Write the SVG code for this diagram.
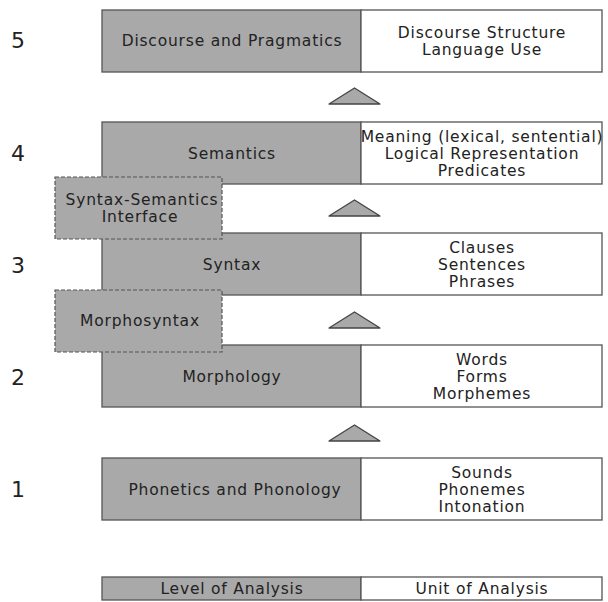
<svg xmlns="http://www.w3.org/2000/svg" width="608" height="602" viewBox="0 0 608 602">
<style>
.lv{fill:#a9a9a9;stroke:#555;stroke-width:1.3}
.un{fill:#fff;stroke:#555;stroke-width:1.3}
.ifc{fill:#a9a9a9;stroke:#555;stroke-width:1.2;stroke-dasharray:4 2}
.tri{fill:#a9a9a9;stroke:#444;stroke-width:1.3;stroke-linejoin:round}
text{font-family:"DejaVu Sans",Verdana,sans-serif;font-size:15.5px;letter-spacing:0.8px;fill:#222;text-anchor:middle}
.num{font-size:22px;letter-spacing:0;text-anchor:start;fill:#222}
</style>
<rect width="608" height="602" fill="#fff"/>
<g id="connectors">
<polygon class="tri" points="329,104 354.5,88 380,104"/>
<polygon class="tri" points="329,216 354.5,200 380,216"/>
<polygon class="tri" points="329,328 354.5,312 380,328"/>
<polygon class="tri" points="329,441 354.5,425 380,441"/>
</g>
<g id="level5">
<text class="num" x="11" y="48">5</text>
<rect class="lv" x="102" y="10" width="259" height="62"/>
<rect class="un" x="361" y="10" width="241" height="62"/>
<text x="232" y="46">Discourse and Pragmatics</text>
<text x="482" y="38">Discourse Structure</text>
<text x="482" y="55">Language Use</text>
</g>
<g id="level4">
<text class="num" x="11" y="161">4</text>
<rect class="lv" x="102" y="122" width="259" height="62"/>
<rect class="un" x="361" y="122" width="241" height="62"/>
<text x="232" y="159">Semantics</text>
<text x="482" y="142">Meaning (lexical, sentential)</text>
<text x="482" y="159">Logical Representation</text>
<text x="482" y="176">Predicates</text>
</g>
<g id="level3">
<text class="num" x="11" y="273">3</text>
<rect class="lv" x="102" y="233" width="259" height="62"/>
<rect class="un" x="361" y="233" width="241" height="62"/>
<text x="232" y="270">Syntax</text>
<text x="482" y="253">Clauses</text>
<text x="482" y="270">Sentences</text>
<text x="482" y="287">Phrases</text>
</g>
<g id="level2">
<text class="num" x="11" y="385">2</text>
<rect class="lv" x="102" y="345" width="259" height="62"/>
<rect class="un" x="361" y="345" width="241" height="62"/>
<text x="232" y="382">Morphology</text>
<text x="482" y="365">Words</text>
<text x="482" y="382">Forms</text>
<text x="482" y="399">Morphemes</text>
</g>
<g id="level1">
<text class="num" x="11" y="497">1</text>
<rect class="lv" x="102" y="458" width="259" height="62"/>
<rect class="un" x="361" y="458" width="241" height="62"/>
<text x="235" y="495">Phonetics and Phonology</text>
<text x="482" y="478">Sounds</text>
<text x="482" y="495">Phonemes</text>
<text x="482" y="512">Intonation</text>
</g>
<g id="syntax-semantics-interface">
<rect class="ifc" x="55" y="177" width="167" height="62"/>
<text x="142" y="205">Syntax-Semantics</text>
<text x="140" y="222">Interface</text>
</g>
<g id="morphosyntax">
<rect class="ifc" x="55" y="290" width="167" height="62"/>
<text x="140" y="326">Morphosyntax</text>
</g>
<g id="legend">
<rect class="lv" x="102" y="577" width="259" height="23"/>
<rect class="un" x="361" y="577" width="241" height="23"/>
<text x="232" y="594">Level of Analysis</text>
<text x="482" y="594">Unit of Analysis</text>
</g>
</svg>
